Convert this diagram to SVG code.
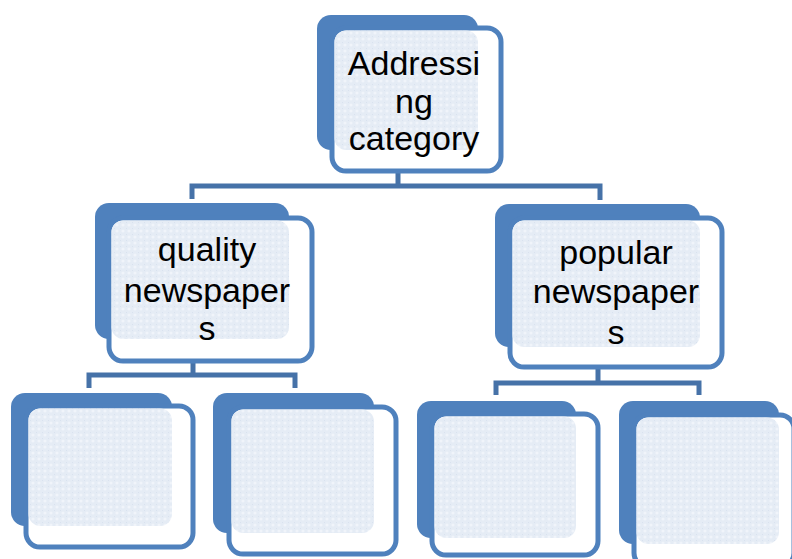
<svg xmlns="http://www.w3.org/2000/svg" width="792" height="559" viewBox="0 0 792 559">
  <defs>
    <pattern id="tex" width="6" height="6" patternUnits="userSpaceOnUse">
      <rect width="6" height="6" fill="#e5ecf5"/>
      <circle cx="3" cy="3" r="1.6" fill="#f0f4fa"/>
      <rect x="0" y="0" width="1" height="1" fill="#d9e2ef"/>
    </pattern>
  </defs>
  <style>
    .back { fill: #4f81bd; }
    .front { fill: #ffffff; stroke: #4f81bd; stroke-width: 5; }
    .tex { fill: url(#tex); }
    .conn { fill: none; stroke: #4672a8; stroke-width: 5; stroke-linejoin: miter; }
    .lbl { font-family: "Liberation Sans", Arial, sans-serif; font-size: 34px; fill: #000000; text-anchor: middle; }
  </style>
  <rect width="792" height="559" fill="#ffffff"/>

  <g id="connectors">
    <path class="conn" d="M398,172 V186 M192,199 V186 H600 V200"/>
    <path class="conn" d="M193,362 V375 M89,388 V375 H295 V388"/>
    <path class="conn" d="M598,368 V383 M496,395 V383 H699 V395"/>
  </g>

  <g id="node-top">
    <rect class="back" x="317" y="15" width="161" height="135" rx="14"/>
    <rect class="front" x="332" y="28" width="169" height="143" rx="14"/>
    <rect class="tex" x="334.5" y="30.5" width="143.5" height="119.5" rx="12"/>
    <text class="lbl" x="414" y="75">Addressi</text>
    <text class="lbl" x="414" y="113">ng</text>
    <text class="lbl" x="414" y="150">category</text>
  </g>

  <g id="node-quality">
    <rect class="back" x="95" y="203" width="194" height="136" rx="14"/>
    <rect class="front" x="109" y="218" width="203" height="143" rx="14"/>
    <rect class="tex" x="111.5" y="220.5" width="177.5" height="118.5" rx="12"/>
    <text class="lbl" x="207" y="261">quality</text>
    <text class="lbl" x="207" y="302">newspaper</text>
    <text class="lbl" x="207" y="340">s</text>
  </g>

  <g id="node-popular">
    <rect class="back" x="495" y="204" width="205" height="143" rx="14"/>
    <rect class="front" x="510" y="218" width="212" height="149" rx="14"/>
    <rect class="tex" x="512.5" y="220.5" width="187.5" height="126.5" rx="12"/>
    <text class="lbl" x="616" y="264">popular</text>
    <text class="lbl" x="616" y="303">newspaper</text>
    <text class="lbl" x="616" y="344">s</text>
  </g>

  <g id="node-q1">
    <rect class="back" x="11" y="393" width="161" height="133" rx="14"/>
    <rect class="front" x="26" y="406" width="167" height="141" rx="14"/>
    <rect class="tex" x="28.5" y="408.5" width="143.5" height="117.5" rx="12"/>
  </g>

  <g id="node-q2">
    <rect class="back" x="213" y="393" width="161" height="140" rx="14"/>
    <rect class="front" x="229" y="407" width="167" height="147" rx="14"/>
    <rect class="tex" x="231.5" y="409.5" width="142.5" height="123.5" rx="12"/>
  </g>

  <g id="node-p1">
    <rect class="back" x="417" y="401" width="159" height="137" rx="14"/>
    <rect class="front" x="432" y="414" width="166" height="141" rx="14"/>
    <rect class="tex" x="434.5" y="416.5" width="141.5" height="121.5" rx="12"/>
  </g>

  <g id="node-p2">
    <rect class="back" x="619" y="401" width="160" height="143" rx="14"/>
    <rect class="front" x="634" y="415" width="160" height="152" rx="14"/>
    <rect class="tex" x="636.5" y="417.5" width="142.5" height="126.5" rx="12"/>
  </g>
</svg>
